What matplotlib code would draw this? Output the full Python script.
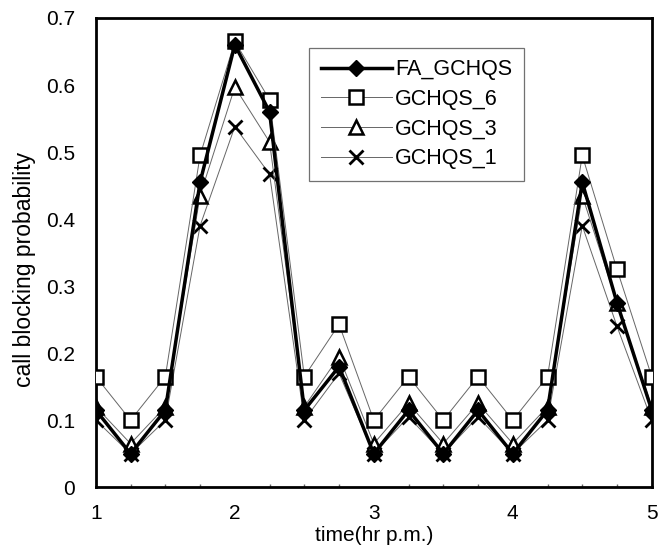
import matplotlib.pyplot as plt
import numpy as np

plt.rcParams['font.family'] = ['Liberation Sans', 'DejaVu Sans']

time = [1, 1.25, 1.5, 1.75, 2, 2.25, 2.5, 2.75, 3, 3.25, 3.5, 3.75, 4, 4.25, 4.5, 4.75, 5]
fa_gchqs = [0.115, 0.05, 0.115, 0.455, 0.66, 0.56, 0.115, 0.18, 0.05, 0.115, 0.05, 0.115, 0.05, 0.115, 0.455, 0.275, 0.115]
gchqs_6 = [0.165, 0.1, 0.165, 0.495, 0.665, 0.578, 0.165, 0.243, 0.1, 0.165, 0.1, 0.165, 0.1, 0.165, 0.495, 0.325, 0.165]
gchqs_3 = [0.12, 0.065, 0.12, 0.435, 0.597, 0.515, 0.12, 0.195, 0.065, 0.125, 0.065, 0.125, 0.065, 0.12, 0.435, 0.275, 0.12]
gchqs_1 = [0.1, 0.05, 0.1, 0.39, 0.538, 0.467, 0.1, 0.17, 0.05, 0.105, 0.05, 0.105, 0.05, 0.1, 0.39, 0.24, 0.1]

fig = plt.figure(figsize=(6.61, 5.45), dpi=100)
ax = fig.add_axes([0.145, 0.106, 0.841, 0.861])

ax.plot(time, gchqs_1, color='0.4', lw=0.7, marker='x', ms=10, mew=2, mec='k', label='GCHQS_1', zorder=2)
ax.plot(time, gchqs_3, color='0.4', lw=0.7, marker='^', ms=10, mew=1.8, mec='k', mfc='white', label='GCHQS_3', zorder=3)
ax.plot(time, gchqs_6, color='0.4', lw=0.7, marker='s', ms=10, mew=1.8, mec='k', mfc='white', label='GCHQS_6', zorder=3)
ax.plot(time, fa_gchqs, color='k', lw=2.5, marker='D', ms=8, mfc='k', mec='k', label='FA_GCHQS', zorder=4)

ax.set_xlim(1, 5)
ax.set_ylim(0, 0.7)
ax.set_xticks([1, 2, 3, 4, 5])
ax.set_xticks(np.arange(1, 5.01, 0.25), minor=True)
ax.set_yticks([0, 0.1, 0.2, 0.3, 0.4, 0.5, 0.6, 0.7])
ax.set_yticklabels(['0', '0.1', '0.2', '0.3', '0.4', '0.5', '0.6', '0.7'])
ax.tick_params(axis='both', which='major', length=0, labelsize=15)
ax.tick_params(axis='x', which='major', pad=12)
ax.tick_params(axis='y', which='major', pad=15)
ax.tick_params(axis='x', which='minor', direction='in', length=2, width=1, color='0.4')

for s in ax.spines.values():
    s.set_linewidth(2)

ax.set_xlabel('time(hr p.m.)', fontsize=15)
ax.xaxis.label.set_va('center')
ax.xaxis.set_label_coords(0.5, -0.102)
ax.set_ylabel('call blocking probability', fontsize=16.5)
ax.yaxis.label.set_va('center')
ax.yaxis.set_label_coords(-0.128, 0.465)

h, l = ax.get_legend_handles_labels()
leg = ax.legend(h[::-1], l[::-1], loc='upper left', bbox_to_anchor=(0.383, 0.937),
                fontsize=15.5, frameon=True, fancybox=False, borderpad=0.55,
                handlelength=3.3, handletextpad=0.15, labelspacing=0.4,
                borderaxespad=0)
leg.get_frame().set_edgecolor('0.3')
leg.get_frame().set_linewidth(0.9)

fig.savefig('out.png', dpi=100)
